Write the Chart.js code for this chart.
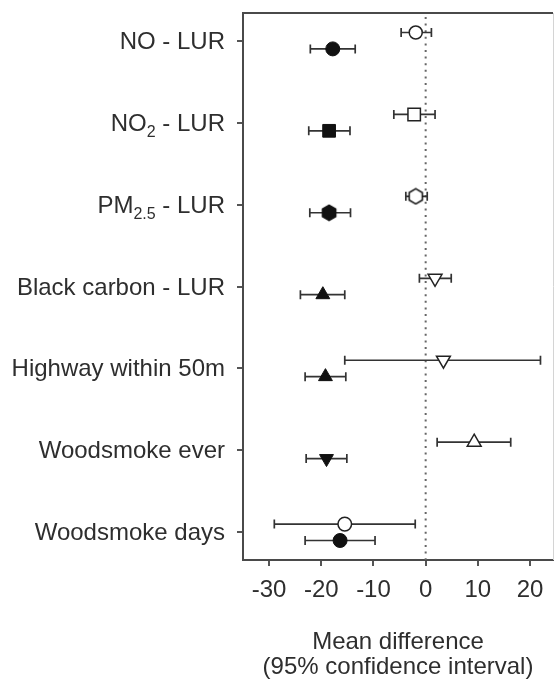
<!DOCTYPE html>
<html>
<head>
<meta charset="utf-8">
<script src="https://cdn.jsdelivr.net/npm/chart.js@4.4.0/dist/chart.umd.min.js"></script>
<style>
  body { margin: 0; background: #fff; }
  canvas { display: block; }
</style>
</head>
<body>
<canvas id="forest" width="555" height="684"></canvas>
<script>
// rows, top to bottom ("_" marks a subscript)
const categories = ['NO - LUR', 'NO_2 - LUR', 'PM_2.5 - LUR', 'Black carbon - LUR',
  'Highway within 50m', 'Woodsmoke ever', 'Woodsmoke days'];

// open markers (upper of each pair)
const openEst  = [-1.9, -2.2, -1.9, 1.8, 3.4, 9.3, -15.5];
const openLow  = [-4.7, -6.1, -3.8, -1.2, -15.5, 2.2, -29.0];
const openHigh = [1.1, 1.8, 0.3, 4.9, 22.0, 16.3, -2.0];

// filled markers (lower of each pair)
const filledEst  = [-17.8, -18.5, -18.5, -19.7, -19.2, -19.0, -16.4];
const filledLow  = [-22.1, -22.4, -22.2, -24.0, -23.1, -22.9, -23.1];
const filledHigh = [-13.5, -14.5, -14.4, -15.5, -15.3, -15.1, -9.7];

const xTicks = [-30, -20, -10, 0, 10, 20];

const FONT = '"Liberation Sans", Arial, sans-serif';
const TEXT = '#2e2e2e';

function makeHexagon(fill, stroke) {
  const c = document.createElement('canvas');
  c.width = 18; c.height = 18;
  const g = c.getContext('2d');
  g.beginPath();
  for (let k = 0; k < 6; k++) {
    const a = -Math.PI / 2 + k * Math.PI / 3;
    const px = 9 + 7.6 * Math.cos(a), py = 9 + 7.6 * Math.sin(a);
    k ? g.lineTo(px, py) : g.moveTo(px, py);
  }
  g.closePath();
  g.fillStyle = fill; g.fill();
  g.strokeStyle = stroke; g.lineWidth = 1.6; g.stroke();
  return c;
}
const hexOpen = makeHexagon('#fff', '#1a1a1a');
const hexFilled = makeHexagon('#111', '#111');

const openStyle   = ['circle', 'rect', hexOpen, 'triangle', 'triangle', 'triangle', 'circle'];
const openRot     = [0, 0, 0, 180, 180, 0, 0];
const openRad     = [6.5, 8.8, 9, 8, 8, 8, 6.8];
const filledStyle = ['circle', 'rect', hexFilled, 'triangle', 'triangle', 'triangle', 'circle'];
const filledRot   = [0, 0, 0, 0, 0, 180, 0];
const filledRad   = [7, 9, 9, 8, 8, 8, 7];

const zeroAndBars = {
  id: 'zeroAndBars',
  beforeDatasetsDraw(chart) {
    const { ctx, chartArea, scales: { x, y } } = chart;
    ctx.save();
    const x0 = x.getPixelForValue(0);
    ctx.strokeStyle = '#666';
    ctx.lineWidth = 2;
    ctx.setLineDash([2, 4.6]);
    ctx.beginPath();
    ctx.moveTo(x0, chartArea.top + 4);
    ctx.lineTo(x0, chartArea.bottom);
    ctx.stroke();
    ctx.setLineDash([]);

    ctx.strokeStyle = '#333';
    ctx.lineWidth = 1.7;
    chart.data.datasets.forEach(ds => {
      ds.data.forEach((p, i) => {
        const py = y.getPixelForValue(p.y);
        const xl = x.getPixelForValue(ds.errLow[i]);
        const xh = x.getPixelForValue(ds.errHigh[i]);
        ctx.beginPath();
        ctx.moveTo(xl, py); ctx.lineTo(xh, py);
        ctx.moveTo(xl, py - 4.5); ctx.lineTo(xl, py + 4.5);
        ctx.moveTo(xh, py - 4.5); ctx.lineTo(xh, py + 4.5);
        ctx.stroke();
      });
    });
    ctx.restore();
  }
};

const frameAndLabels = {
  id: 'frameAndLabels',
  afterDraw(chart) {
    const { ctx, chartArea, scales: { y } } = chart;
    ctx.save();
    // top and right sides of the box
    ctx.strokeStyle = '#4a4a4a';
    ctx.lineWidth = 2;
    ctx.beginPath();
    ctx.moveTo(chartArea.left - 1, chartArea.top);
    ctx.lineTo(chartArea.right, chartArea.top);
    ctx.stroke();
    ctx.strokeStyle = '#d4d4d4';
    ctx.lineWidth = 1;
    ctx.beginPath();
    ctx.moveTo(chartArea.right + 0.5, chartArea.top);
    ctx.lineTo(chartArea.right + 0.5, chartArea.bottom);
    ctx.stroke();

    // row labels with subscripts
    const mainFont = '24px ' + FONT, subFont = '16px ' + FONT;
    ctx.fillStyle = TEXT;
    ctx.textBaseline = 'alphabetic';
    ctx.textAlign = 'left';
    const right = chartArea.left - 18;
    categories.forEach((label, i) => {
      const parts = label.split(/_([^\s]+)/);
      let w = 0;
      parts.forEach((t, k) => {
        ctx.font = k % 2 ? subFont : mainFont;
        w += ctx.measureText(t).width;
      });
      let cx = right - w;
      const base = y.getPixelForValue(i + 1) + 8;
      parts.forEach((t, k) => {
        ctx.font = k % 2 ? subFont : mainFont;
        ctx.fillText(t, cx, k % 2 ? base + 6 : base);
        cx += ctx.measureText(t).width;
      });
    });
    ctx.restore();
  }
};

new Chart(document.getElementById('forest'), {
  type: 'scatter',
  data: {
    datasets: [
      {
        label: 'open',
        data: openEst.map((v, i) => ({ x: v, y: i + 1 - 0.1 })),
        errLow: openLow, errHigh: openHigh,
        pointStyle: openStyle, rotation: openRot, pointRadius: openRad,
        backgroundColor: '#fff', borderColor: '#222', borderWidth: 1.5
      },
      {
        label: 'filled',
        data: filledEst.map((v, i) => ({ x: v, y: i + 1 + 0.1 })),
        errLow: filledLow, errHigh: filledHigh,
        pointStyle: filledStyle, rotation: filledRot, pointRadius: filledRad,
        backgroundColor: '#111', borderColor: '#111', borderWidth: 1
      }
    ]
  },
  options: {
    responsive: false,
    animation: false,
    devicePixelRatio: 1,
    layout: { autoPadding: false, padding: { top: 13, right: 2, left: 0, bottom: 0 } },
    plugins: { legend: { display: false }, tooltip: { enabled: false } },
    scales: {
      x: {
        type: 'linear',
        min: -35, max: 24.4,
        afterBuildTicks: s => { s.ticks = xTicks.map(v => ({ value: v })); },
        afterFit: s => { s.height = 124; s.paddingLeft = 0; s.paddingRight = 0; },
        grid: { drawOnChartArea: false, drawTicks: true, tickLength: 6, color: '#555', lineWidth: 2 },
        border: { display: true, color: '#4a4a4a', width: 2 },
        ticks: { color: TEXT, padding: 10, font: { family: FONT, size: 24 } },
        title: {
          display: true,
          text: ['Mean difference', '(95% confidence interval)'],
          color: TEXT,
          font: { family: FONT, size: 24, lineHeight: 1.05 },
          padding: { top: 0, bottom: 4 }
        }
      },
      y: {
        type: 'linear',
        reverse: true,
        min: 0.662, max: 7.338,
        afterBuildTicks: s => { s.ticks = categories.map((c, i) => ({ value: i + 1 })); },
        afterFit: s => { s.width = 243; s.paddingTop = 0; s.paddingBottom = 0; },
        grid: { drawOnChartArea: false, drawTicks: true, tickLength: 6, color: '#555', lineWidth: 2 },
        border: { display: true, color: '#4a4a4a', width: 2 },
        ticks: { callback: () => '', padding: 0 }
      }
    }
  },
  plugins: [zeroAndBars, frameAndLabels]
});
</script>
</body>
</html>
